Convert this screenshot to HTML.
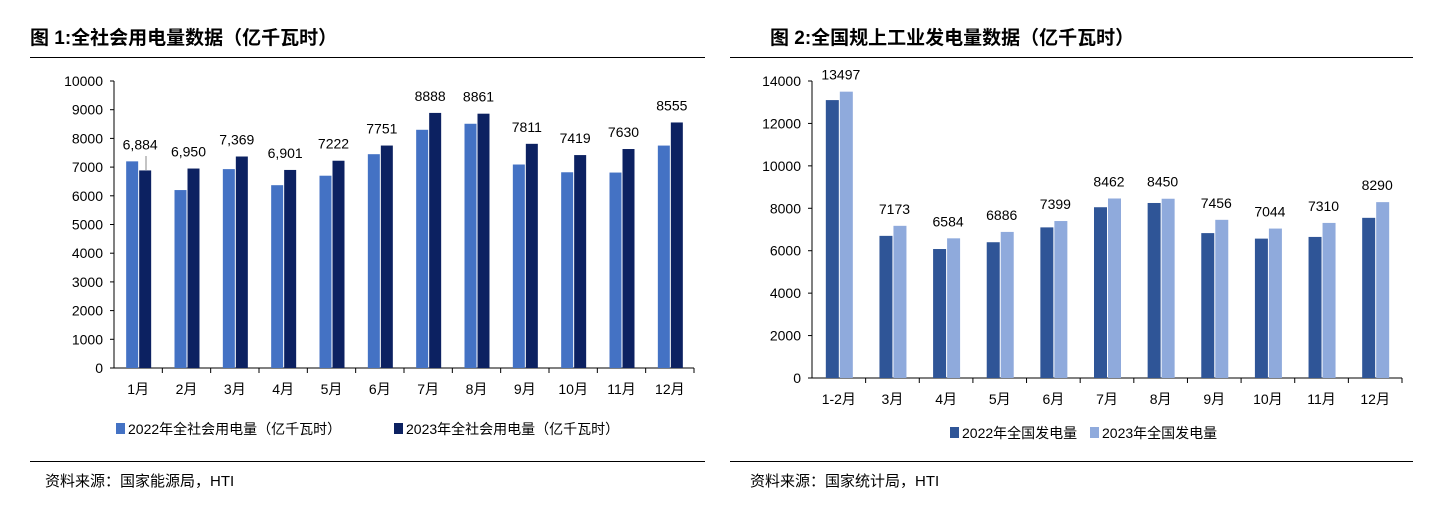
<!DOCTYPE html>
<html><head><meta charset="utf-8">
<style>
body{margin:0;background:#fff;font-family:"Liberation Sans","Noto Sans CJK SC",sans-serif;}
#wrap{position:relative;width:1447px;height:506px;overflow:hidden;}
svg text{font-family:"Liberation Sans","Noto Sans CJK SC",sans-serif;}
</style></head><body>
<div id="wrap">
<svg id="svg" width="1447" height="506">
<text x="30" y="44" font-size="19" font-weight="bold">图 1:全社会用电量数据（亿千瓦时）</text>
<text x="770" y="44" font-size="19" font-weight="bold">图 2:全国规上工业发电量数据（亿千瓦时）</text>
<line x1="30" y1="57.5" x2="705" y2="57.5" stroke="#000"/>
<line x1="730" y1="57.5" x2="1413" y2="57.5" stroke="#000"/>
<line x1="30" y1="461.5" x2="705" y2="461.5" stroke="#000"/>
<line x1="730" y1="461.5" x2="1413" y2="461.5" stroke="#000"/>
<text x="45" y="486" font-size="15">资料来源：国家能源局，HTI</text>
<text x="750" y="486" font-size="15">资料来源：国家统计局，HTI</text>
<g id="c1"></g>
<g id="c2"></g>
</svg>
</div>
<script>
const cats1 = ["1月","2月","3月","4月","5月","6月","7月","8月","9月","10月","11月","12月"];
const s2022a = [7200,6200,6930,6370,6700,7450,8300,8510,7090,6820,6810,7750];
const s2023a = [6884,6950,7369,6901,7222,7751,8888,8861,7811,7419,7630,8555];
const lab1 = ["6,884","6,950","7,369","6,901","7222","7751","8888","8861","7811","7419","7630","8555"];
const ticks1 = [0,1000,2000,3000,4000,5000,6000,7000,8000,9000,10000];

const cats2 = ["1-2月","3月","4月","5月","6月","7月","8月","9月","10月","11月","12月"];
const s2022b = [13100,6700,6080,6400,7100,8050,8250,6830,6570,6650,7550];
const s2023b = [13497,7173,6584,6886,7399,8462,8450,7456,7044,7310,8290];
const ticks2 = [0,2000,4000,6000,8000,10000,12000,14000];

const NS="http://www.w3.org/2000/svg";
function mk(parent,tag,attrs){const e=document.createElementNS(NS,tag);for(const k in attrs)e.setAttribute(k,attrs[k]);parent.appendChild(e);return e;}

function chart(g,cfg){
  const {x0,x1,y0,y1,max,cats,a,b,labels,ticks,colA,colB,bw,pre}=cfg;
  const ys=v=>y0-(v/max)*(y0-y1);
  const gw=(x1-x0)/cats.length;
  const ax=mk(g,'line',{x1:x0,y1:y1,x2:x0,y2:y0,stroke:'#000'});
  
  
  const bx=mk(g,'line',{x1:x0,y1:y0,x2:x1,y2:y0,stroke:'#000'});
  
  
  ticks.forEach(t=>{
    const y=ys(t);
    mk(g,'line',{x1:x0-4,y1:y,x2:x0,y2:y,stroke:'#000'});
    const tx=mk(g,'text',{x:x0-11,y:y+5,'font-size':14,'text-anchor':'end'});
    tx.textContent=t;
    
    
  });
  cats.forEach((c,i)=>{
    const gx=x0+i*gw;
    mk(g,'line',{x1:gx+gw,y1:y0,x2:gx+gw,y2:y0+5,stroke:'#000'});
    const cx=gx+gw/2;
    const ra=mk(g,'rect',{x:cx-bw,y:ys(a[i]),width:bw,height:y0-ys(a[i]),fill:colA});
    
    
    const rb=mk(g,'rect',{x:cx+1,y:ys(b[i]),width:bw,height:y0-ys(b[i]),fill:colB});
    
    
    const top=ys(Math.max(a[i],b[i]));
    const lt=mk(g,'text',{x:cx+2,y:top-12,'font-size':14,'text-anchor':'middle'});
    lt.textContent=labels[i];
    
    
    const xl=mk(g,'text',{x:cx,y:y0+26,'font-size':14,'text-anchor':'middle'});
    xl.textContent=c;
    
    
  });
}
const c1=document.getElementById('c1'),c2=document.getElementById('c2');
chart(c1,{x0:114,x1:694,y0:368,y1:81,max:10000,cats:cats1,a:s2022a,b:s2023a,labels:lab1,ticks:ticks1,colA:'#4472C4',colB:'#0C2161',bw:12,pre:'chart1'});
chart(c2,{x0:812,x1:1402,y0:378,y1:81,max:14000,cats:cats2,a:s2022b,b:s2023b,labels:s2023b.map(String),ticks:ticks2,colA:'#2F5597',colB:'#8FAADC',bw:13,pre:'chart2'});
// leader line for 1月
const ld=mk(c1,'line',{x1:146,y1:156,x2:146,y2:170,stroke:'#888'});


// legends
function leg(g,x,y,col,txt,name){
  const r=mk(g,'rect',{x:x,y:y-10,width:9,height:11,fill:col});
  
  
  const t=mk(g,'text',{x:x+12,y:y+1,'font-size':14});
  t.textContent=txt;
  
  
}
leg(c1,116,433,'#4472C4','2022年全社会用电量（亿千瓦时）','chart1-legend-2022');
leg(c1,394,433,'#0C2161','2023年全社会用电量（亿千瓦时）','chart1-legend-2023');
leg(c2,950,437,'#2F5597','2022年全国发电量','chart2-legend-2022');
leg(c2,1090,437,'#8FAADC','2023年全国发电量','chart2-legend-2023');
</script>
</body></html>
